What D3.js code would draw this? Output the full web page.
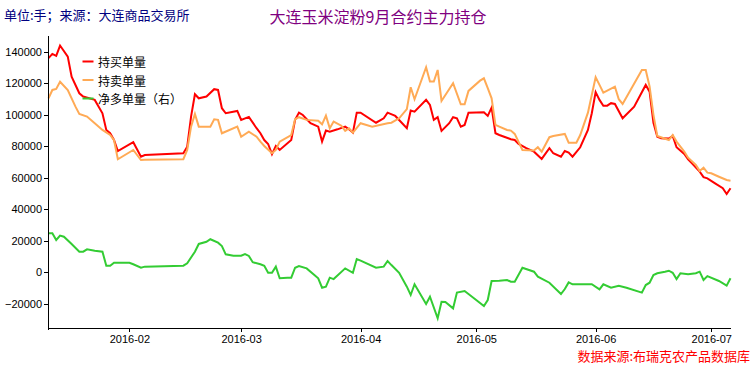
<!DOCTYPE html>
<html><head><meta charset="utf-8">
<script src="https://cdn.jsdelivr.net/npm/d3@7"></script>
<style>body{margin:0;background:#fff;} svg{display:block;}</style>
</head><body><svg id="c" width="756" height="369"></svg>
<script>
// ---- data ----
const buyDates = ["1/11","1/12","1/13","1/14","1/16","1/17","1/19","1/20","1/23","1/25",
"1/26","1/27","1/28","1/29","2/2","2/4","2/5","2/15","2/16","2/17",
"2/18","2/19","2/21","2/23","2/24","2/25","2/26","2/29","3/1","3/3",
"3/5","3/6","3/7","3/8","3/9","3/10","3/11","3/14","3/15","3/16",
"3/17","3/19","3/21","3/22","3/23","3/24","3/26","3/28","3/29","3/30",
"3/31","4/1","4/5","4/7","4/8","4/10","4/13","4/14","4/15","4/18",
"4/19","4/20","4/21","4/22","4/24","4/25","4/26","4/27","4/28","4/29",
"5/3","5/4","5/5","5/6","5/7","5/10","5/11","5/12","5/14","5/16",
"5/18","5/20","5/21","5/23","5/24","5/25","5/26","5/28","5/30","5/31",
"6/1","6/2","6/3","6/4","6/5","6/6","6/8","6/11","6/14","6/15",
"6/16","6/17","6/18","6/20","6/21","6/22","6/24","6/25","6/26","6/28",
"6/29","6/30","7/2","7/4","7/5","7/6"];
const buyValues = [136000,138700,137400,144000,137000,124300,113700,111600,109500,101000,
90400,88300,84000,77000,82600,73400,74500,75600,79800,98900,
113100,110500,111600,116300,115800,104200,101000,102500,96800,98700,
91500,88300,84000,81500,75000,80200,77700,84000,96800,101400,
99900,94700,92500,83000,90000,89300,90800,92500,90800,88700,
101400,101400,95000,97800,101400,99300,91500,102700,102000,109500,
106300,96800,98500,89800,94700,98500,97800,92500,93600,101400,
101600,99300,104600,88300,87200,84500,84000,81500,78800,76600,
72000,78800,75600,73400,77000,76000,73400,79400,90400,101000,
114400,109500,105800,105800,107400,106900,97800,105200,119000,114700,
95000,86100,85100,84900,86600,79400,75200,71800,69200,63900,
60400,59700,56500,53400,49700,53400];

const sellDates = ["1/11","1/12","1/13","1/14","1/16","1/18","1/19","1/21","1/23","1/25",
"1/27","1/28","1/29","2/2","2/4","2/5","2/15","2/16","2/17","2/18",
"2/19","2/22","2/23","2/24","2/25","2/29","3/1","3/3","3/5","3/6",
"3/7","3/9","3/10","3/11","3/14","3/15","3/16","3/18","3/21","3/22",
"3/23","3/24","3/25","3/27","3/28","3/29","3/30","4/1","4/4","4/8",
"4/9","4/11","4/13","4/14","4/15","4/18","4/19","4/20","4/21","4/22",
"4/25","4/27","4/28","4/29","5/2","5/3","5/4","5/5","5/6","5/7",
"5/9","5/10","5/11","5/13","5/16","5/17","5/18","5/20","5/21","5/24",
"5/25","5/27","5/28","5/30","6/1","6/2","6/3","6/6","6/7","6/8",
"6/13","6/14","6/15","6/16","6/17","6/20","6/21","6/22","6/24","6/25",
"6/27","6/28","6/29","6/30","7/1","7/3","7/5","7/6"];
const sellValues = [110500,115800,116500,121000,115800,105200,100600,98900,94700,90400,
87200,84000,71800,77700,71300,71500,71800,77700,92500,100600,
92500,92500,97200,96800,88300,92500,86100,89300,86100,83000,
80200,75600,77700,83000,87200,97200,98500,96800,96300,94000,
99500,91500,95700,93100,89800,91500,88700,94700,92500,94700,
95000,97800,103600,117500,109900,130200,121100,121100,128500,108800,
120100,106700,106700,115200,121700,123200,116900,110500,93600,92500,
90400,90000,87900,77700,77300,79400,76600,85800,86600,87900,
82300,82300,87200,101400,123900,119000,114100,117900,109900,106900,
128500,128500,118000,100000,86600,84000,87200,83000,76600,72800,
68200,64400,66500,63300,62900,60700,58600,58200];

const netDates = ["1/11","1/12","1/13","1/14","1/15","1/17","1/19","1/20","1/21","1/23",
"1/25","1/26","1/27","1/28","2/1","2/2","2/4","2/5","2/15","2/16",
"2/18","2/19","2/21","2/22","2/24","2/25","2/26","2/28","3/1","3/2",
"3/3","3/4","3/6","3/7","3/8","3/9","3/10","3/11","3/13","3/14",
"3/15","3/16","3/18","3/20","3/21","3/22","3/23","3/24","3/25","3/28",
"3/30","3/31","4/1","4/5","4/7","4/8","4/9","4/11","4/13","4/14",
"4/15","4/18","4/19","4/21","4/22","4/23","4/25","4/26","4/28","5/1",
"5/3","5/4","5/5","5/7","5/9","5/10","5/11","5/13","5/16","5/17",
"5/20","5/23","5/24","5/25","5/26","5/31","6/2","6/3","6/5","6/7",
"6/9","6/13","6/14","6/15","6/16","6/17","6/19","6/20","6/21","6/22",
"6/23","6/25","6/27","6/28","6/29","6/30","7/3","7/5","7/6"];
const netValues = [24800,24800,20500,23300,22600,18000,13100,13100,14600,13700,
13100,4200,4200,6100,6100,5100,2900,3600,4200,5700,
13100,18000,19400,21000,18800,16700,11400,10500,10500,11600,
10400,6400,5100,4200,-300,-300,3600,-3800,-3400,-3400,
2900,4000,2500,-1700,-3800,-9800,-9100,-3400,-4300,2500,
-300,8400,7400,2900,3600,7200,4600,-300,-9100,-14400,
-7600,-20100,-15500,-29200,-18700,-18900,-22900,-12900,-11900,-17600,
-21400,-17600,-5500,-5300,-4900,-6000,-6000,2900,400,-2800,
-6600,-13800,-10600,-6400,-7600,-7600,-10800,-7600,-9800,-8500,
-9800,-12900,-8100,-6600,-1700,-600,400,1000,-300,-4300,
-600,-1300,-600,400,-4900,-2400,-5500,-8500,-3800];

const seriesNames = ["持买单量", "持卖单量", "净多单量（右）"];
const seriesColors = ["#ff0000", "#ffaa55", "#33cc33"];
const yTickValues = [-20000, 0, 20000, 40000, 60000, 80000, 100000, 120000, 140000];
const xTickLabels = ["2/1", "3/1", "4/1", "5/1", "6/1", "7/1"];
const xStart = "1/11", xEnd = "7/6";
const yMin = -36000, yMax = 150700;
const unitText = "单位:手；来源：大连商品交易所";
const titleText = "大连玉米淀粉9月合约主力持仓";
const sourceText = "数据来源:布瑞克农产品数据库";

// ---- drawing ----
const parse = s => d3.timeParse("%Y/%m/%d")("2016/" + s);
const svg = d3.select("#c");
const x = d3.scaleTime().domain([parse(xStart), parse(xEnd)]).range([48.5, 730.5]);
const y = d3.scaleLinear().domain([yMin, yMax]).range([329, 35]);
const axisFont = "'Liberation Sans', Arial, sans-serif";
const cjkFont = "'Noto Sans CJK SC', 'Noto Sans', sans-serif";

const series = [
  buyDates.map((d, i) => ({ date: parse(d), v: buyValues[i] })),
  sellDates.map((d, i) => ({ date: parse(d), v: sellValues[i] })),
  netDates.map((d, i) => ({ date: parse(d), v: netValues[i] }))
];

const line = d3.line().x(d => x(d.date)).y(d => y(d.v));
svg.append("g").selectAll("path").data(series).join("path")
  .attr("d", line).attr("fill", "none")
  .attr("stroke", (d, i) => seriesColors[i]).attr("stroke-width", 2)
  .attr("stroke-linejoin", "miter");

const yAxis = svg.append("g").attr("transform", "translate(48,0)")
  .call(d3.axisLeft(y).tickValues(yTickValues).tickFormat(d3.format("d"))
    .tickSize(4).tickSizeOuter(0).tickPadding(2));
const xAxis = svg.append("g").attr("transform", "translate(0,328)")
  .call(d3.axisBottom(x).tickValues(xTickLabels.map(parse)).tickFormat(d3.timeFormat("%Y-%m"))
    .tickSize(4).tickSizeOuter(0).tickPadding(3));
[yAxis, xAxis].forEach(a => {
  a.selectAll("text").attr("font-family", axisFont).attr("font-size", 11).attr("fill", "#000");
  a.selectAll("line,path").attr("stroke", "#000").attr("shape-rendering", "crispEdges");
});

// legend
const leg = svg.append("g");
seriesNames.forEach((n, i) => {
  const cy = 61.5 + i * 18.5;
  leg.append("line").attr("x1", 82.5).attr("x2", 93.5).attr("y1", cy).attr("y2", cy)
    .attr("stroke", seriesColors[i]).attr("stroke-width", 2);
  leg.append("text").attr("x", 98).attr("y", cy).attr("dominant-baseline", "central")
    .attr("font-family", cjkFont).attr("font-size", 12).attr("fill", "#000").text(n);
});

svg.append("text").attr("x", 4).attr("y", 14).attr("dominant-baseline", "central")
  .attr("font-family", cjkFont).attr("font-size", 13).attr("fill", "#000080").text(unitText);
svg.append("text").attr("x", 378).attr("y", 16).attr("text-anchor", "middle").attr("dominant-baseline", "central")
  .attr("font-family", cjkFont).attr("font-size", 16).attr("fill", "#800080").text(titleText);
svg.append("text").attr("x", 750).attr("y", 355).attr("text-anchor", "end").attr("dominant-baseline", "central")
  .attr("font-family", cjkFont).attr("font-size", 13).attr("fill", "#ff0000").text(sourceText);
</script></body></html>
